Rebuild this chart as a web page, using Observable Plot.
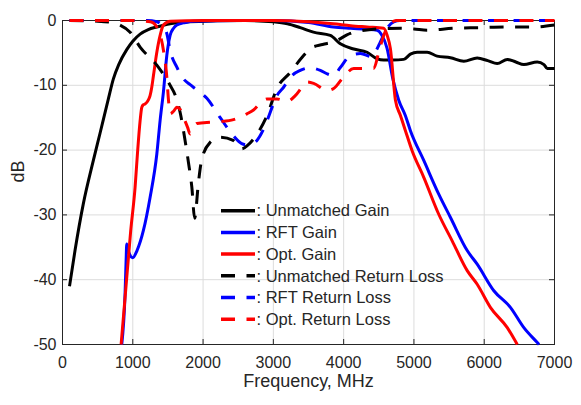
<!DOCTYPE html>
<html>
<head>
<meta charset="utf-8">
<script src="https://cdn.jsdelivr.net/npm/d3@7"></script>
<script src="https://cdn.jsdelivr.net/npm/@observablehq/plot@0.6"></script>
<style>
  html, body { margin: 0; padding: 0; background: #fff; }
</style>
</head>
<body>
<div id="chart"></div>
<script>
// ---- data (frequency MHz, dB) ----
const xTicks = [0, 1000, 2000, 3000, 4000, 5000, 6000, 7000];
const yTicks = [-50, -40, -30, -20, -10, 0];
const xLabel = "Frequency, MHz";
const yLabel = "dB";
const seriesNames = [": Unmatched Gain", ": RFT Gain", ": Opt. Gain",
  ": Unmatched Return Loss", ": RFT Return Loss", ": Opt. Return Loss"];

const unmatchedGain = [[100,-41],[178,-35.5],[296,-28.3],[439,-21.6],[534,-17.4],[650,-12.2],[724,-9.0],
  [800,-6.8],[914,-4.5],[1000,-3.2],[1104,-2.1],[1220,-1.4],[1342,-1.0],[1531,-0.5],[1800,-0.2],[2200,-0.05],
  [2600,0],[3000,-0.2],[3200,-0.5],[3383,-1.1],[3570,-1.8],[3810,-2.3],[3953,-3.6],[4143,-4.4],[4333,-4.9],
  [4475,-5.9],[4570,-6.1],[4700,-6.1],[4855,-6.0],[4950,-5.2],[5045,-4.9],[5188,-4.9],[5330,-5.5],[5520,-5.75],
  [5710,-6.3],[5900,-5.8],[6050,-6.2],[6185,-6.65],[6328,-6.0],[6450,-6.4],[6564,-6.8],[6755,-6.4],[6850,-6.8],
  [6897,-7.4],[7000,-7.4]];

const rftGain = [[843,-50],[890,-42.2],[905,-37],[914,-34.5],[935,-35.5],[1000,-36.6],[1060,-35.5],[1151,-32.4],
  [1246,-27.3],[1342,-20.6],[1389,-15.4],[1436,-11],[1484,-5.4],[1531,-2.3],[1580,-1.2],[1627,-0.7],[1750,-0.3],
  [1863,-0.1],[2500,0],[3000,0],[3500,-0.3],[3853,-1.0],[4100,-1.2],[4333,-1.35],[4475,-1.5],[4540,-2.2],
  [4618,-4.3],[4700,-9],[4784,-12.3],[4879,-14.7],[4950,-17],[5140,-21.6],[5353,-26.8],[5520,-30.4],[5758,-35.5],
  [5900,-37.6],[6137,-41.7],[6375,-44.3],[6564,-47.4],[6755,-49.7],[6780,-50]];

const optGain = [[834,-50],[900,-41.5],[970,-32.5],[1033,-25.7],[1066,-20.6],[1104,-15.5],[1128,-13.4],[1150,-13.0],
  [1175,-12.9],[1220,-12.3],[1246,-11.6],[1270,-10.3],[1294,-8.5],[1342,-4.9],[1389,-2.3],[1436,-0.7],[1531,-0.1],
  [2000,0],[3000,0],[3500,-0.2],[3853,-0.5],[4100,-0.8],[4333,-1.0],[4570,-1.2],[4620,-2.3],[4665,-4.3],
  [4737,-12.3],[4808,-14.65],[4879,-17],[4974,-20.1],[5140,-24.2],[5353,-29.9],[5544,-34.0],[5758,-38.6],
  [5900,-40.7],[6090,-44.3],[6328,-47.4],[6470,-50]];

const unmatchedRL = [[100,0],[500,-0.1],[700,-0.3],[819,-0.7],[962,-1.8],[1104,-4.1],[1342,-6.9],[1531,-10],
  [1603,-11.5],[1680,-14.5],[1721,-17],[1792,-21.9],[1840,-25.7],[1880,-30.5],[1934,-25],[1980,-21.5],[2101,-18.8],
  [2244,-18],[2429,-18.5],[2550,-19.8],[2640,-19.2],[2718,-18.3],[2800,-17],[2909,-14.7],[3051,-10.5],[3241,-8.0],
  [3430,-5.4],[3526,-4.3],[3700,-3.7],[3858,-3.3],[4095,-2.0],[4300,-1.5],[4427,-1.35],[4808,-1.2],[5000,-1.3],
  [5188,-1.5],[5567,-1.2],[5947,-1.1],[6328,-1.0],[6707,-1.0],[7000,-0.7]];

const rftRL = [[100,0],[1200,0],[1342,-0.2],[1420,-0.8],[1484,-2],[1531,-4.6],[1627,-7.2],[1721,-9],[1816,-9.9],
  [1900,-10.6],[2054,-12],[2244,-15],[2433,-17.8],[2550,-19],[2624,-19.2],[2700,-19],[2766,-18.5],[2850,-17],
  [2909,-15.5],[3003,-12.8],[3051,-11.6],[3146,-10.3],[3265,-8.5],[3383,-7.7],[3526,-7.3],[3668,-7.7],[3780,-8.3],
  [3858,-8.5],[3950,-7.3],[4095,-5.4],[4238,-5.1],[4404,-5.6],[4470,-4.5],[4523,-3.3],[4618,-1.2],[4713,-0.2],
  [4800,0],[7000,0]];

const optRL = [[100,0],[1000,0],[1250,-0.2],[1342,-1.0],[1436,-4.6],[1484,-8.7],[1508,-12.3],[1531,-14.4],
  [1580,-14.0],[1627,-13.4],[1680,-13.8],[1721,-14.9],[1780,-16.5],[1816,-17.5],[1863,-16.5],[1912,-15.9],
  [2101,-15.7],[2244,-15.6],[2433,-15.3],[2624,-14.4],[2718,-13.8],[2861,-12.3],[2909,-12.1],[3051,-12.1],
  [3194,-12.5],[3312,-11.6],[3430,-10],[3479,-9.5],[3573,-9.7],[3763,-10.8],[3858,-10.5],[4000,-8.7],[4143,-7.4],
  [4333,-7.4],[4428,-7.4],[4499,-4.9],[4570,-2.3],[4665,-0.5],[4750,0],[7000,0]];

// ---- styling ----
const W = 581, H = 405;
const M = {top: 20, right: 27, bottom: 61, left: 62};
const pw = W - M.left - M.right, ph = H - M.top - M.bottom;
const tickLen = 5;
const axisColor = "#262626";
const font = "'Liberation Sans', Arial, Helvetica, sans-serif";
const dash = "14,11.5";
const lw = 3;

const series = [
  {data: unmatchedGain, color: "#000000", dashed: false},
  {data: rftGain, color: "#0000ff", dashed: false},
  {data: optGain, color: "#ff0000", dashed: false},
  {data: unmatchedRL, color: "#000000", dashed: true},
  {data: rftRL, color: "#0000ff", dashed: true},
  {data: optRL, color: "#ff0000", dashed: true}
];

const lineMarks = series.map(s => Plot.line(s.data, {
  x: d => d[0], y: d => d[1], stroke: s.color, strokeWidth: lw,
  strokeDasharray: s.dashed ? dash : null, strokeLinecap: "butt", strokeLinejoin: "round",
  curve: "monotone-x"
}));

const fmt = d => String(d);

const chart = Plot.plot({
  width: W, height: H,
  marginTop: M.top, marginRight: M.right, marginBottom: M.bottom, marginLeft: M.left,
  style: {background: "#fff", fontFamily: font, color: axisColor},
  x: {domain: [0, 7000]},
  y: {domain: [-50, 0]},
  marks: [
    Plot.gridX(xTicks, {stroke: "#dcdcdc", strokeOpacity: 1, strokeWidth: 1}),
    Plot.gridY(yTicks, {stroke: "#dcdcdc", strokeOpacity: 1, strokeWidth: 1}),
    Plot.axisX(xTicks, {tickSize: 0, tickPadding: 12, tickFormat: fmt, fontSize: 16, fill: axisColor, label: null}),
    Plot.axisY(yTicks, {tickSize: 0, tickPadding: 6, tickFormat: fmt, fontSize: 16, fill: axisColor, label: null}),
    Plot.tickX(xTicks, {x: d => d, insetTop: ph - tickLen, stroke: axisColor}),
    Plot.tickX(xTicks, {x: d => d, insetBottom: ph - tickLen, stroke: axisColor}),
    Plot.tickY(yTicks, {y: d => d, insetRight: pw - tickLen, stroke: axisColor}),
    Plot.tickY(yTicks, {y: d => d, insetLeft: pw - tickLen, stroke: axisColor}),
    Plot.frame({stroke: axisColor, strokeWidth: 1}),
    ...lineMarks,
    Plot.text([xLabel], {text: d => d, frameAnchor: "bottom", dy: 42, fontSize: 18, fill: axisColor}),
    Plot.text([yLabel], {text: d => d, frameAnchor: "left", dx: -44, rotate: -90, fontSize: 18, fill: axisColor})
  ]
});

document.getElementById("chart").appendChild(chart);

// ---- legend (inside plot area) ----
const svg = d3.select(chart);
const lg = svg.append("g").attr("font-family", font).attr("font-size", 16.5).attr("text-anchor", "start");
const lx0 = 221, lx1 = 255, ly0 = 210.7, lstep = 21.7;
series.forEach((s, i) => {
  const y = ly0 + i * lstep;
  lg.append("line").attr("x1", lx0).attr("x2", lx1).attr("y1", y).attr("y2", y)
    .attr("stroke", s.color).attr("stroke-width", lw + 0.5)
    .attr("stroke-dasharray", s.dashed ? "14,11.5" : null);
  lg.append("text").attr("x", lx1 + 1.5).attr("y", y).attr("dy", "0.35em")
    .attr("text-anchor", "start").attr("fill", axisColor).text(seriesNames[i]);
});
</script>
</body>
</html>
